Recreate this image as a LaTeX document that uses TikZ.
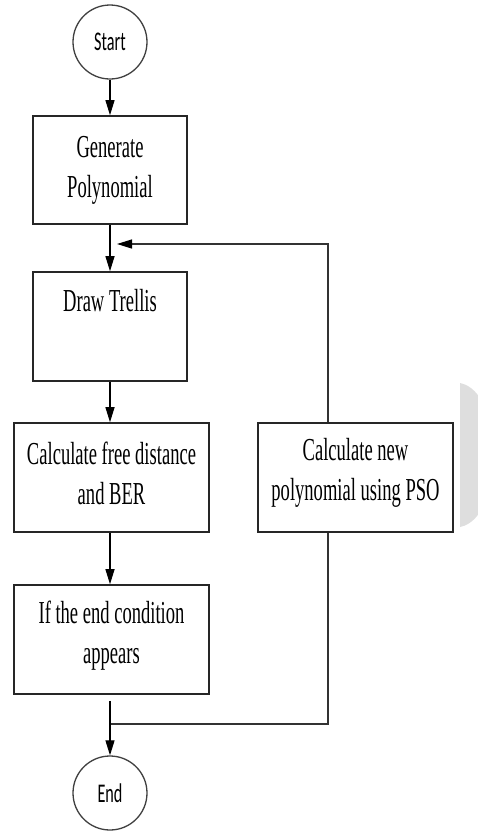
\documentclass[tikz,border=0pt]{standalone}
\usepackage{fontspec}
\usetikzlibrary{arrows.meta,calc}
\newfontfamily\boxfont[FakeStretch=0.58]{Liberation Serif}
\newfontfamily\termfont[FakeStretch=0.6]{Carlito}
\begin{document}
\begin{tikzpicture}[x=1pt,y=-1pt,
  box/.style={draw=black!85,line width=1.6pt,minimum width=154pt,minimum height=108pt,inner sep=0pt,align=center,
    font=\boxfont\fontsize{32}{40}\selectfont},
  widebox/.style={box,minimum width=195pt,minimum height=109pt},
  term/.style={draw=black!75,line width=1.3pt,circle,minimum size=74pt,inner sep=0pt,
    font=\termfont\fontsize{27}{30}\selectfont},
  txt/.style={inner sep=0pt,align=center,font=\boxfont\fontsize{32}{40}\selectfont},
  arr/.style={draw=black,line width=1.2pt,-{Triangle[length=15pt,width=9pt]}},
  ln/.style={draw=black!80,line width=1.3pt}]
\useasboundingbox (0,0) rectangle (478,831);
% faint grey shape at right edge
\fill[black!13] (460,383) .. controls (505,392) and (505,518) .. (460,527) -- cycle;
\node[term] (start) at (110,42) {Start};
\node[box] (gen) at (110,170) {Generate\\Polynomial};
\node[box,minimum height=109pt] (trel) at (110,326.5) {};
\node[txt] (treltxt) at (110,301) {Draw Trellis};
\node[widebox] (calc) at (111.5,477.5) {};
\node[txt] (calctxt) at (111.5,473) {Calculate free distance\\and BER};
\node[widebox] (pso) at (355.5,477.5) {};
\node[txt] (psotxt) at (355.5,473) {Calculate new\\polynomial using PSO};
\node[widebox] (cond) at (111.5,639.5) {};
\node[txt] (condtxt) at (111.5,636) {If the end condition\\appears};
\node[term] (end) at (110,793) {End};
\coordinate (fbx) at (328,0);
\coordinate (fbend) at (117,244);
\coordinate (join) at (110,724);
\draw[arr] (start.south) -- (gen.south |- start.south) -- (gen.north);
\draw[arr] (gen.south) -- (trel.north);
\draw[arr] (trel.south) -- (trel.south |- calc.north);
\draw[arr] (trel.south |- calc.south) -- (trel.south |- cond.north);
\draw[ln] (fbx |- pso.north) -- (fbx |- fbend) -- ($(fbend)+(6,0)$);
\draw[arr] ($(fbend)+(8,0)$) -- (fbend);
\draw[ln] (fbx |- pso.south) -- (fbx |- join) -- (join);
\draw[arr] ($(join |- cond.south)+(0,6)$) -- (end.north);
\end{tikzpicture}
\end{document}
